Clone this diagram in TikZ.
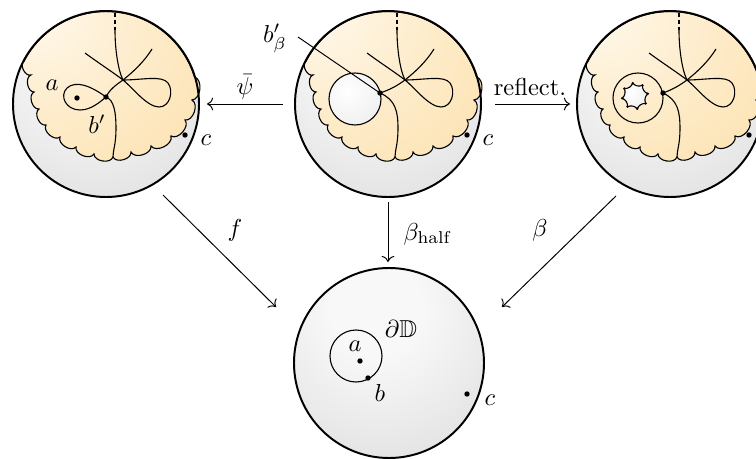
\documentclass[tikz,border=0pt]{standalone}
\usepackage{amsmath,amssymb}
\usepackage{tikz}
\usetikzlibrary{arrows.meta, positioning}

\definecolor{blobin}{RGB}{255,250,240}
\definecolor{blobout}{RGB}{252,222,166}
\definecolor{discin}{RGB}{248,248,248}
\definecolor{discout}{RGB}{210,210,210}

\pgfdeclareradialshading{discshade}{\pgfpoint{-4bp}{16bp}}{color(0bp)=(discin); color(12bp)=(discin); color(58bp)=(discout); color(100bp)=(discout)}
\pgfdeclareradialshading{blobshade}{\pgfpoint{-25bp}{24bp}}{color(0bp)=(blobin); color(30bp)=(blobin!45!blobout); color(60bp)=(blobout); color(100bp)=(blobout)}
\pgfdeclareradialshading{holeshade}{\pgfpoint{-8bp}{8bp}}{color(0bp)=(white); color(50bp)=(black!9); color(100bp)=(black!9)}

\begin{document}
\begin{tikzpicture}[x=0.408pt, y=0.408pt,
  disc/.style={shading=discshade},
  rim/.style={draw, thick},
  blob/.style={draw, shade, shading=blobshade, line width=0.45pt, bend left=80},
  curve/.style={line width=0.45pt},
  hole/.style={draw, shade, shading=holeshade, line width=0.45pt},
  pt/.style={fill, circle, inner sep=0pt, minimum size=2.2pt},
  arr/.style={->}
]
  \useasboundingbox (0,0) rectangle (756,458);
  \clip (0,0) rectangle (756,458);

  % Top row: three discs carrying the same tree
  \foreach \cx/\bx/\by/\nm in {106/0/7/L, 388/-8/11/M, 670/-7/11/R} {
    \begin{scope}[shift={(\cx,354)}]
      \coordinate (c\nm) at (0,0);
      \shade[disc] (0,0) circle (93);
      \draw[blob] (17:92.5) to (86,4) to (79,-16) to (65,-32) to (45,-42) to (25,-48) to (7,-53)
        to (-12,-50) to (-30,-43) to (-46,-33) to (-60,-21) to (-67,-5) to (-72,12) to (-75,29)
        to (152.6:92.5) arc[start angle=152.6, end angle=17, radius=92.5] -- cycle;
      \coordinate (x\nm) at (17,24);
      \coordinate (bp\nm) at (\bx,\by);
      % tree
      \draw[curve, dash pattern=on 1.6pt off 1.2pt] (9,91) -- (9,74);
      \draw[curve] (9,74) .. controls (9,55) and (12,34) .. (x\nm);
      \draw[curve] (-21,51) .. controls (-6,40) and (8,31) .. (x\nm)
        .. controls (26,17) and (41,-3) .. (53,-3) .. controls (64,-3) and (68,13) .. (62,21)
        .. controls (56,29) and (36,24) .. (x\nm);
      \draw[curve] (46,55) .. controls (38,42) and (27,32) .. (x\nm) .. controls (10,19) and (4,15) .. (bp\nm);
      \draw[curve] (bp\nm) .. controls (8,4) and (10,-8) .. (10,-25) .. controls (10,-40) and (7,-46) .. (7,-53);
      \node[pt] (dotc\nm) at (79,-31) {};
      \draw[rim] (0,0) circle (93);
    \end{scope}
  }

  % left disc: loop round a
  \begin{scope}[shift={(cL)}]
    \draw[curve] (bpL) .. controls (-15,18) and (-30,24) .. (-39,16) .. controls (-47,8) and (-40,-6) .. (-26,-6)
      .. controls (-15,-6) and (-6,2) .. (bpL);
    \node[pt] (dotaL) at (-29,6) {};
    \node (labaL) at (-54,19) {$a$};
    \node (labbL) at (-9,-20) {$b'$};
    \node (labcL) at (100,-36) {$c$};
  \end{scope}

  % middle disc: the hole
  \begin{scope}[shift={(cM)}]
    \path[hole] (-33,5) circle (26);
    \node (labcM) at (100,-36) {$c$};
  \end{scope}
  \node (labbM) at (275,420) {$b'_\beta$};
  \coordinate (bbS) at (298,421);
  \draw (bbS) -- (bpM);

  % right disc: ring and reflected hole
  \begin{scope}[shift={(cR)}]
    \draw[curve] (-32,6) circle (25);
    \begin{scope}[shift={(-35,8)}]
      \path[hole] (10:13) \foreach \k in {1,...,7} { to[bend left=35] (10+45*\k:13) } to[bend left=35] (10:13) -- cycle;
      \foreach \k in {0,...,7} \fill (10+45*\k:13) circle (0.55pt);
    \end{scope}
  \end{scope}

  \foreach \nm in {L,M,R} \node[pt] (dotb\nm) at (bp\nm) {};

  % Bottom disc
  \coordinate (cB) at (389,95);
  \shade[disc] (cB) circle (95);
  \draw[rim] (cB) circle (95);
  \draw[curve] (356,102) circle (26);
  \node[pt] (dotaB) at (360,97) {};
  \node[pt] (dotbB) at (368,80) {};
  \node[pt] (dotcB) at (467,64) {};
  \node (labaB) at (355,112) {$a$};
  \node (labbB) at (380,65) {$b$};
  \node (labcB) at (490,58) {$c$};
  \node (labdB) at (401,129) {$\partial\mathbb{D}$};

  % Maps
  \coordinate (psiS) at (283,354);
  \coordinate (psiE) at (207,354);
  \coordinate (refS) at (495,354);
  \coordinate (refE) at (570,354);
  \coordinate (halfS) at (388,256);
  \coordinate (halfE) at (388,196);
  \coordinate (fS) at (163,263);
  \coordinate (fE) at (276,151);
  \coordinate (betaS) at (616,262);
  \coordinate (betaE) at (502,151);

  \draw[arr] (psiS) -- (psiE);
  \draw[arr] (refS) -- (refE);
  \draw[arr] (halfS) -- (halfE);
  \draw[arr] (fS) -- (fE);
  \draw[arr] (betaS) -- (betaE);

  \node[inner sep=1pt] (labpsi) at (245,371) {$\bar\psi$};
  \node[anchor=base] (labref) at (530,363) {reflect.};
  \node[anchor=west] (labhalf) at (395,224) {$\beta_{\text{half}}$};
  \node (labf) at (235,228) {$f$};
  \node (labbeta) at (540,228) {$\beta$};

\end{tikzpicture}
\end{document}
